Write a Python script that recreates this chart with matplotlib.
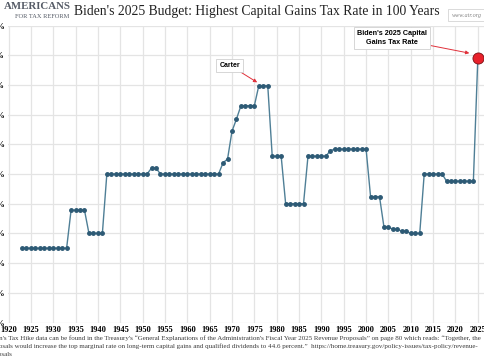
import matplotlib.pyplot as plt

# top long-term capital gains tax rate (%), one value per year 1923-2025
years = list(range(1923, 2026))
rates = [
    12.5, 12.5, 12.5, 12.5, 12.5, 12.5, 12.5, 12.5, 12.5, 12.5, 12.5,  # 1923-1933
    18.9, 18.9, 18.9, 18.9,                                            # 1934-1937
    15, 15, 15, 15,                                                    # 1938-1941
    25, 25, 25, 25, 25, 25, 25, 25, 25, 25,                            # 1942-1951
    26, 26,                                                            # 1952-1953
    25, 25, 25, 25, 25, 25, 25, 25, 25, 25, 25, 25, 25, 25,            # 1954-1967
    26.9, 27.5, 32.21, 34.25,                                          # 1968-1971
    36.5, 36.5, 36.5, 36.5,                                            # 1972-1975
    39.875, 39.875, 39.875,                                            # 1976-1978
    28, 28, 28,                                                        # 1979-1981
    20, 20, 20, 20, 20,                                                # 1982-1986
    28, 28, 28, 28, 28,                                                # 1987-1991
    28.93,                                                             # 1992
    29.19, 29.19, 29.19, 29.19, 29.19, 29.19, 29.19, 29.19,            # 1993-2000
    21.19, 21.19, 21.19,                                               # 2001-2003
    16.05, 16.05, 15.7, 15.7, 15.35, 15.35,                            # 2004-2009
    15, 15, 15,                                                        # 2010-2012
    25, 25, 25, 25, 25,                                                # 2013-2017
    23.8, 23.8, 23.8, 23.8, 23.8, 23.8, 23.8,                          # 2018-2024
    44.6,                                                              # 2025
]
x_ticks = list(range(1920, 2026, 5))
y_ticks = list(range(0, 51, 5))

title = "Biden's 2025 Budget: Highest Capital Gains Tax Rate in 100 Years"
footnote = [
    "Biden's Tax Hike data can be found in the Treasury's \u201cGeneral Explanations of the Administration's "
    "Fiscal Year 2025 Revenue Proposals\u201d on page 80 which reads: \u201cTogether, the",
    "proposals would increase the top marginal rate on long-term capital gains and qualified dividends "
    "to 44.6 percent.\u201d  https://home.treasury.gov/policy-issues/tax-policy/revenue-",
    "proposals",
]

fig = plt.figure(figsize=(4.85, 3.6), dpi=100)
ax = fig.add_axes([8.5 / 485, 37.5 / 360, 476.5 / 485, 297 / 360])

ax.plot(years, rates, color="#4f7f96", lw=1.0, marker="o", ms=2.5,
        mfc="#2d5a75", mec="#2d5a75", zorder=3)
ax.plot(years[-1], rates[-1], "o", ms=8, mfc="#e8212b", mec="#7a1015",
        mew=0.6, zorder=4)

ax.set_xlim(1920, 2026.6)
ax.set_ylim(0, 50)
ax.set_xticks(x_ticks)
ax.set_yticks(y_ticks)
ax.set_yticklabels([f"{v}%" for v in y_ticks])
ax.grid(True, color="#e4e4e4", lw=0.9)
ax.set_axisbelow(True)
for s in ax.spines.values():
    s.set_visible(False)
ax.tick_params(length=0, pad=2.5)
for lab in ax.get_xticklabels() + ax.get_yticklabels():
    lab.set_family("Liberation Serif")
    lab.set_weight("bold")
    lab.set_fontsize(6)

box = dict(boxstyle="square,pad=0.45", fc="white", ec="#d0d0d0", lw=0.6)
arrow = dict(arrowstyle="-|>", color="#e0303a", lw=0.7, mutation_scale=5,
             shrinkA=0, shrinkB=1)
ax.annotate("Carter", xy=(1975.9, 40.3), xytext=(1969.5, 43.3),
            ha="center", va="center", fontsize=5, weight="bold",
            family="Liberation Sans", bbox=box, arrowprops=arrow)
ax.annotate("Biden's 2025 Capital\nGains Tax Rate", xy=(2023.4, 45.3),
            xytext=(2005.8, 47.9), ha="center", va="center", fontsize=5.2,
            weight="bold", family="Liberation Sans", bbox=box,
            arrowprops=arrow, linespacing=1.4, annotation_clip=False)

fig.text(0.53, 0.968, title, ha="center", va="center", fontsize=9.8,
         family="Liberation Serif", color="#222222")
fig.text(0.008, 0.982, "AMERICANS", ha="left", va="center", fontsize=7.8,
         family="Liberation Serif", weight="bold", color="#555b66")
fig.text(0.03, 0.953, "FOR TAX REFORM", ha="left", va="center", fontsize=4.6,
         family="Liberation Serif", color="#555b66")
fig.text(0.932, 0.958, "www.atr.org", ha="left", va="center", fontsize=4.5,
         family="Liberation Serif", style="italic", color="#888888",
         bbox=dict(boxstyle="square,pad=0.6", fc="white", ec="#cccccc", lw=0.5))

for i, line in enumerate(footnote):
    fig.text(-14 / 485, 0.062 - i * 0.024, line, ha="left", va="center",
             fontsize=5.0, family="Liberation Serif", color="#3a3a3a")

fig.savefig("out.png", dpi=100)
